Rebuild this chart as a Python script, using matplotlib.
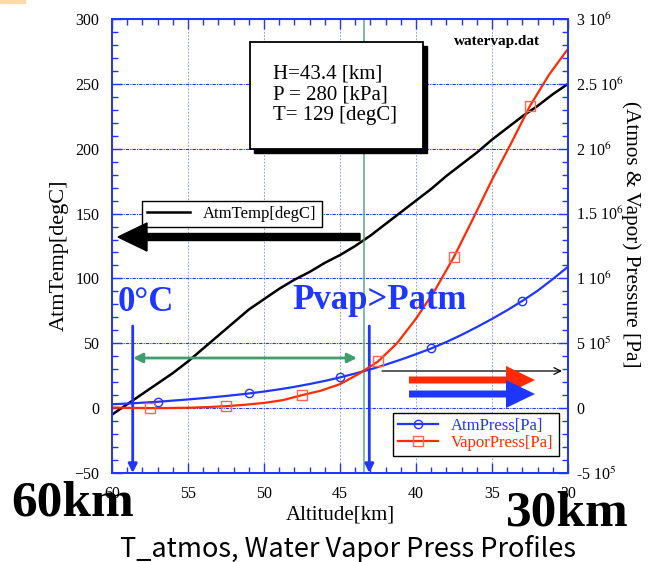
import numpy as np
import matplotlib
matplotlib.use('Agg')
import matplotlib.pyplot as plt
from matplotlib.ticker import MultipleLocator, FuncFormatter
from matplotlib.patches import Rectangle, FancyArrow
from matplotlib.transforms import IdentityTransform

# data
alt_km = [60, 59, 58, 57, 56, 55, 54, 53, 52, 51, 50, 49, 48, 47, 46, 45,
          44, 43, 42, 41, 40, 39, 38, 37, 36, 35, 34, 33, 32, 31, 30]
atm_temp = [-5, 3, 11, 19, 27, 36, 46, 56, 66, 76, 84, 92, 99, 105, 112, 118,
            125, 133, 142, 151, 160, 169, 179, 188, 197, 207, 216, 225, 233, 242, 250]
atm_press = [30000, 35000, 42000, 49000, 58000, 67000, 77000, 88000, 100000, 113000,
             128000, 145000, 164000, 186000, 210000, 237000, 267000, 299000, 335000,
             374000, 416000, 460000, 510000, 565000, 625000, 688000, 755000, 827000,
             905000, 995000, 1090000]
alt_vap = [60, 58.75, 57.5, 56.25, 55, 53.75, 52.5, 51.25, 50, 48.75, 47.5, 46.25,
           45, 43.75, 42.5, 41.25, 40, 38.75, 37.5, 36.25, 35, 33.75, 32.5, 31.25, 30]
vapor_press = [5000, 2000, 0, 1000, 3000, 8000, 15000, 26000, 40000, 62000, 100000,
               135000, 185000, 265000, 360000, 500000, 690000, 910000, 1167000,
               1460000, 1760000, 2040000, 2330000, 2570000, 2770000]

H_km = 43.4
P_kpa = 280
T_degc = 129

W, H = 651, 562
blue = '#1f36ff'
red = '#ff2a00'
green = '#3f9e6e'

plt.rcParams['font.family'] = ['Liberation Serif', 'DejaVu Serif']
plt.rcParams['mathtext.fontset'] = 'stix'

fig = plt.figure(figsize=(W / 100, H / 100), dpi=100)
ax = fig.add_axes([112 / W, 1 - 473 / H, 456 / W, 454 / H])
ax2 = ax.twinx()


def px(x, y):
    return x, H - y


# temperature
ax.plot(alt_km, atm_temp, color='black', lw=1.8, label='AtmTemp[degC]')
ax.set_xlim(60, 30)
ax.set_ylim(-50, 300)
ax.xaxis.set_major_locator(MultipleLocator(5))
ax.xaxis.set_minor_locator(MultipleLocator(1))
ax.yaxis.set_major_locator(MultipleLocator(50))
ax.yaxis.set_minor_locator(MultipleLocator(10))
ax.grid(True, axis='y', color=blue, linestyle=(0, (3, 1, 1, 1)), lw=0.8)
ax.grid(True, axis='x', color=blue, linestyle=(0, (2, 2)), lw=0.6, alpha=0.6)
ax.tick_params(which='both', direction='in', color=blue, top=True, right=False,
               labelsize=11.5, pad=9)
ax.tick_params(which='major', length=7, width=1)
ax.tick_params(which='minor', length=4, width=1)
ax.set_xlabel('Altitude[km]', fontsize=15, labelpad=3)
ax.set_ylabel('AtmTemp[degC]', fontsize=16)
ax.yaxis.set_label_coords(-0.094, 0.48)
ax.axvline(H_km, color=green, lw=1.2, alpha=0.8)
leg1 = ax.legend(loc='upper left', bbox_to_anchor=(0.065, 0.6), borderaxespad=0,
                 fancybox=False, edgecolor='black', framealpha=1, fontsize=12,
                 handlelength=2.6, borderpad=0.3)
leg1.get_frame().set_linewidth(1.0)

# pressures
ax2.plot(alt_km, atm_press, color=blue, lw=1.6, marker='o', mfc='none', ms=6,
         mew=1, markevery=(3, 6), label='AtmPress[Pa]')
ax2.plot(alt_vap, vapor_press, color=red, lw=1.6, marker='s', mfc='none', ms=6.5,
         mew=1, mec='#ff6650', markevery=(2, 4), label='VaporPress[Pa]')
ax2.set_ylim(-5e5, 3e6)
ax2.yaxis.set_major_locator(MultipleLocator(5e5))
ax2.yaxis.set_minor_locator(MultipleLocator(1e5))


def press_fmt(v, pos):
    if abs(v) < 1:
        return '0'
    e = int(np.floor(np.log10(abs(v)) + 1e-9))
    m = v / 10 ** e
    return '%g 10$^{%d}$' % (m, e)


ax2.yaxis.set_major_formatter(FuncFormatter(press_fmt))
ax2.tick_params(which='both', direction='in', color=blue, labelsize=11.5, pad=6)
ax2.tick_params(which='major', length=7, width=1)
ax2.tick_params(which='minor', length=4, width=1)
ax2.set_ylabel('(Atmos & Vapor) Pressure [Pa]', fontsize=15.3, rotation=270)
ax2.yaxis.set_label_coords(1.16, 0.525)
leg2 = ax2.legend(loc='upper left', bbox_to_anchor=(0.616, 0.133), borderaxespad=0,
                  fancybox=False, edgecolor='black', framealpha=1, fontsize=12,
                  handlelength=2.4, borderpad=0.3, labelspacing=0.1,
                  labelcolor='linecolor', numpoints=1)
leg2.get_frame().set_linewidth(1.0)

for a in (ax, ax2):
    for s in a.spines.values():
        s.set_color(blue)
        s.set_linewidth(1.3)

# annotations
fig.add_artist(Rectangle((0, 1 - 3 / H), 25 / W, 3 / H, color='#ffd9a8', zorder=1))

x0, x1, y0, y1 = 250, 423, 42, 149
fig.add_artist(Rectangle(px(x0 + 4, y1 + 4), x1 - x0, y1 - y0, transform=IdentityTransform(),
                         facecolor='black', edgecolor='black', zorder=4))
fig.add_artist(Rectangle(px(x0, y1), x1 - x0, y1 - y0, transform=IdentityTransform(),
                         facecolor='white', edgecolor='black', lw=1.3, zorder=5))
box_lines = ['H=%.1f [km]' % H_km, 'P = %d [kPa]' % P_kpa, 'T= %d [degC]' % T_degc]
for i, s in enumerate(box_lines):
    fig.text(273 / W, 1 - (79 + 20.5 * i) / H, s, fontsize=15, va='baseline', zorder=6)

fig.text(454 / W, 1 - 45 / H, 'watervap.dat', fontsize=11, fontweight='bold', va='baseline')

# thick arrows
fig.add_artist(FancyArrow(*px(360, 237), -242, 0, width=7, head_width=28, head_length=29,
                          length_includes_head=True, transform=IdentityTransform(),
                          color='black', zorder=4))
fig.add_artist(FancyArrow(*px(409, 380), 126, 0, width=7, head_width=28, head_length=29,
                          length_includes_head=True, transform=IdentityTransform(),
                          color=red, lw=0, zorder=4))
fig.add_artist(FancyArrow(*px(409, 394), 126, 0, width=7, head_width=28, head_length=29,
                          length_includes_head=True, transform=IdentityTransform(),
                          color=blue, lw=0, zorder=4))
ax.annotate('', xy=px(562, 371), xytext=px(382, 371), xycoords='figure pixels',
            textcoords='figure pixels', annotation_clip=False,
            arrowprops=dict(arrowstyle='->', color='black', lw=0.9, shrinkA=0, shrinkB=0,
                            mutation_scale=12))
ax.annotate('', xy=px(133, 358), xytext=px(357, 358), xycoords='figure pixels',
            textcoords='figure pixels', annotation_clip=False,
            arrowprops=dict(arrowstyle='<|-|>', color=green, lw=2, shrinkA=0, shrinkB=0,
                            mutation_scale=14))
for xa in (132.7, 369.3):
    ax.annotate('', xy=px(xa, 473), xytext=px(xa, 326), xycoords='figure pixels',
                textcoords='figure pixels', annotation_clip=False,
                arrowprops=dict(arrowstyle='-|>', color=blue, lw=2, shrinkA=0, shrinkB=0,
                                mutation_scale=13))

fig.text(118 / W, 1 - 311 / H, '0°C', fontsize=25, fontweight='bold', color=blue,
         va='baseline', zorder=6)
fig.text(292 / W, 1 - 309 / H, 'Pvap>Patm', fontsize=25, fontweight='bold', color=blue,
         va='baseline', zorder=6)
fig.text(11 / W, 1 - 516 / H, '60km', fontsize=37, fontweight='bold', va='baseline', zorder=6)
fig.text(506 / W, 1 - 526 / H, '30km', fontsize=37, fontweight='bold', va='baseline', zorder=6)
fig.text(348 / W, 1 - 557 / H, 'T_atmos, Water Vapor Press Profiles', fontsize=19.5,
         family=['Noto Sans CJK JP', 'DejaVu Sans'], ha='center', va='baseline')

fig.savefig('out.png', dpi=100)
